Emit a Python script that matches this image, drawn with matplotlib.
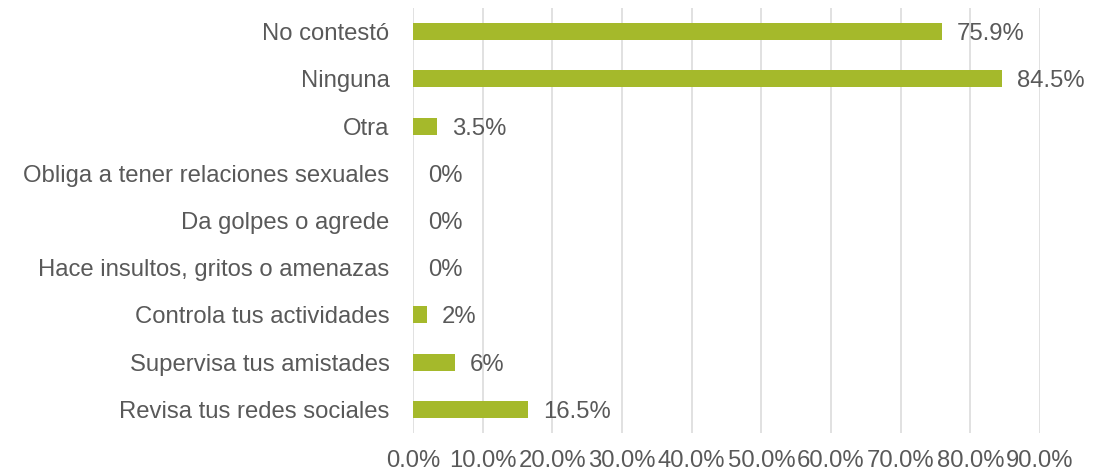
import matplotlib
matplotlib.use('Agg')
import matplotlib.pyplot as plt

# data (bottom to top, as drawn)
categorias = ["Revisa tus redes sociales", "Supervisa tus amistades", "Controla tus actividades",
              "Hace insultos, gritos o amenazas", "Da golpes o agrede",
              "Obliga a tener relaciones sexuales", "Otra", "Ninguna", "No contestó"]
valores = [16.5, 6, 2, 0, 0, 0, 3.5, 84.5, 75.9]
etiquetas = ["16.5%", "6%", "2%", "0%", "0%", "0%", "3.5%", "84.5%", "75.9%"]
ticks = [0, 10, 20, 30, 40, 50, 60, 70, 80, 90]
tick_labels = ["%.1f%%" % t for t in ticks]

plt.rcParams['font.family'] = ['Liberation Sans', 'DejaVu Sans']
texto = '#595959'
fs = 17.2

fig = plt.figure(figsize=(11.11, 4.72), dpi=100)
ax = fig.add_axes([413/1111, 1 - 433/472, (1040-413)/1111, (433-8)/472])

y = range(len(categorias))
ax.barh(y, valores, height=0.36, color='#a5b92b', zorder=3)
for yi, v, lab in zip(y, valores, etiquetas):
    ax.annotate(lab, (v, yi), xytext=(15, 0), textcoords='offset pixels',
                va='center_baseline', ha='left', fontsize=fs, color=texto, zorder=4)

ax.set_xlim(0, 90)
ax.set_ylim(-0.5, len(categorias) - 0.5)
ax.set_xticks(ticks)
ax.set_xticklabels(tick_labels)
ax.set_yticks(list(y))
ax.set_yticklabels(categorias)
ax.grid(axis='x', color='#d9d9d9', linewidth=1.1, zorder=0)
for s in ax.spines.values():
    s.set_visible(False)
ax.tick_params(axis='both', length=0, colors=texto, labelsize=fs)
ax.tick_params(axis='y', pad=17)
ax.tick_params(axis='x', pad=12.5)

fig.savefig('out.png', dpi=100)
